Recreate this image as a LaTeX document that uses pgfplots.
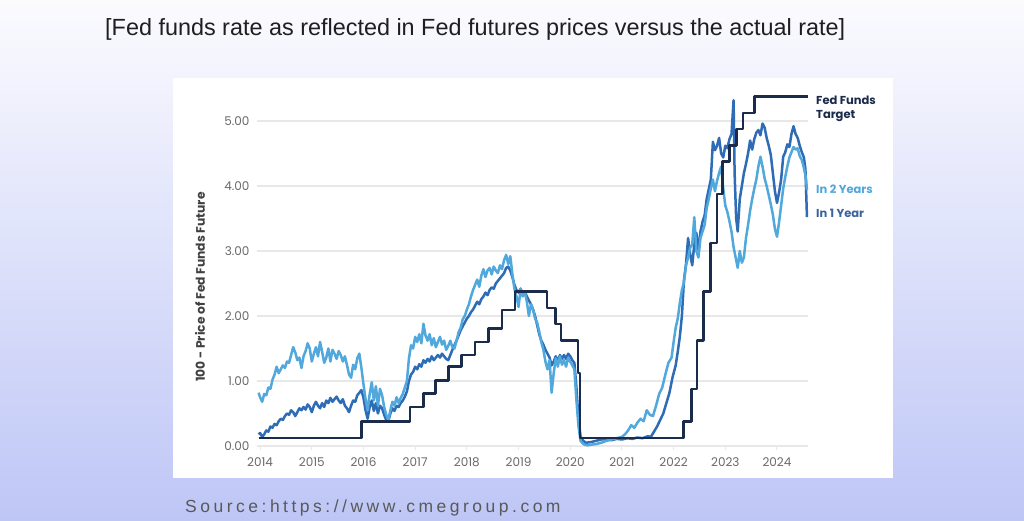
\documentclass[border=0pt]{standalone}
\usepackage{pgfplots}
\pgfplotsset{compat=1.18}
\usepackage{fontspec}
\newfontfamily\popfont{Poppins}
\newfontfamily\arialfont{Liberation Sans}
\newfontfamily\srcfont[LetterSpace=20]{Liberation Sans}

\definecolor{navy}{RGB}{27,43,75}
\definecolor{oneyr}{RGB}{46,108,182}
\definecolor{twoyr}{RGB}{80,168,221}
\definecolor{oneyrlbl}{RGB}{59,99,156}
\definecolor{gridgray}{RGB}{232,232,232}
\definecolor{tickgray}{RGB}{105,105,105}
\definecolor{bgtop}{RGB}{251,251,254}
\definecolor{bgmid}{RGB}{222,226,250}
\definecolor{bgbot}{RGB}{190,198,246}

\begin{document}
\begin{tikzpicture}[x=1pt,y=1pt]
\path[use as bounding box, top color=bgtop, middle color=bgmid, bottom color=bgbot]
  (0,0) rectangle (1024,521);
\fill[white] (173,43) rectangle (893,443);

\node[anchor=base west, inner sep=0, text=black!88, font=\arialfont\fontsize{23.4}{27}\selectfont]
  at (105,485) {[Fed funds rate as reflected in Fed futures prices versus the actual rate]};
\node[anchor=base west, inner sep=0, text=black!65, font=\srcfont\fontsize{17.5}{20}\selectfont]
  at (185,8.5) {Source:https://www.cmegroup.com};

\begin{axis}[
  at={(257pt,75pt)}, anchor=south west,
  scale only axis, width=551pt, height=357.5pt,
  xmin=2013.94, xmax=2024.6, ymin=0, ymax=5.5,
  clip=false,
  axis line style={draw=none},
  xtick={2014,2015,...,2024},
  ytick={0,1,2,3,4,5},
  ymajorgrids, grid style={draw=gridgray, line width=1.2pt},
  tick pos=left, tick align=outside,
  major tick length=4pt,
  xtick style={draw=gridgray, line width=1pt},
  ytick style={draw=none},
  /pgf/number format/assume math mode=true,
  ticklabel style={font=\popfont\fontsize{12}{14}\selectfont, text=tickgray},
  xticklabel style={/pgf/number format/1000 sep={}, yshift=-4pt},
  yticklabel style={/pgf/number format/.cd, fixed, fixed zerofill, precision=2},
  line join=round,
]
% In 1 Year
\addplot[oneyr, line width=2.5pt] coordinates {
(2013.97,0.18) (2014.00,0.20) (2014.04,0.14) (2014.08,0.18) (2014.12,0.24) (2014.16,0.22)
(2014.20,0.30) (2014.24,0.28) (2014.28,0.34) (2014.32,0.32) (2014.36,0.38) (2014.40,0.42)
(2014.44,0.40) (2014.48,0.46) (2014.52,0.50) (2014.56,0.48) (2014.60,0.55) (2014.64,0.52)
(2014.68,0.46) (2014.72,0.52) (2014.76,0.58) (2014.80,0.55) (2014.84,0.60) (2014.88,0.56)
(2014.92,0.64) (2014.96,0.60) (2015.00,0.52) (2015.04,0.62) (2015.08,0.68) (2015.12,0.62)
(2015.16,0.58) (2015.20,0.66) (2015.24,0.60) (2015.28,0.70) (2015.32,0.66) (2015.36,0.74)
(2015.40,0.68) (2015.44,0.72) (2015.48,0.76) (2015.52,0.70) (2015.56,0.66) (2015.60,0.72)
(2015.64,0.62) (2015.68,0.58) (2015.72,0.52) (2015.76,0.62) (2015.80,0.70) (2015.84,0.68)
(2015.88,0.78) (2015.92,0.82) (2015.96,0.86) (2016.00,0.74) (2016.04,0.55) (2016.08,0.42)
(2016.12,0.60) (2016.16,0.70) (2016.20,0.54) (2016.24,0.66) (2016.28,0.50) (2016.32,0.62)
(2016.36,0.58) (2016.40,0.48) (2016.44,0.40) (2016.48,0.38) (2016.52,0.50) (2016.56,0.58)
(2016.60,0.54) (2016.64,0.62) (2016.68,0.60) (2016.72,0.66) (2016.76,0.70) (2016.80,0.76)
(2016.84,0.84) (2016.88,1.00) (2016.92,1.10) (2016.96,1.14) (2017.00,1.22) (2017.04,1.18)
(2017.08,1.26) (2017.12,1.22) (2017.16,1.32) (2017.20,1.28) (2017.24,1.34) (2017.28,1.30)
(2017.32,1.38) (2017.36,1.32) (2017.40,1.36) (2017.44,1.40) (2017.48,1.36) (2017.52,1.42)
(2017.56,1.38) (2017.60,1.34) (2017.64,1.32) (2017.68,1.40) (2017.72,1.48) (2017.76,1.55)
(2017.80,1.62) (2017.84,1.70) (2017.88,1.78) (2017.92,1.84) (2017.96,1.90) (2018.00,1.96)
(2018.04,2.00) (2018.08,2.06) (2018.12,2.10) (2018.16,2.16) (2018.20,2.22) (2018.24,2.18)
(2018.28,2.26) (2018.32,2.30) (2018.36,2.36) (2018.40,2.32) (2018.44,2.40) (2018.48,2.44)
(2018.52,2.42) (2018.56,2.50) (2018.60,2.54) (2018.64,2.58) (2018.68,2.62) (2018.72,2.66)
(2018.76,2.74) (2018.80,2.76) (2018.84,2.70) (2018.88,2.60) (2018.92,2.48) (2018.96,2.40)
(2019.00,2.36) (2019.04,2.42) (2019.08,2.34) (2019.12,2.38) (2019.16,2.30) (2019.20,2.24)
(2019.24,2.18) (2019.28,2.10) (2019.32,2.00) (2019.36,1.86) (2019.40,1.72) (2019.44,1.62)
(2019.48,1.56) (2019.52,1.48) (2019.56,1.42) (2019.60,1.36) (2019.64,1.24) (2019.68,1.30)
(2019.72,1.38) (2019.76,1.30) (2019.80,1.40) (2019.84,1.34) (2019.88,1.40) (2019.92,1.34)
(2019.96,1.42) (2020.00,1.38) (2020.04,1.32) (2020.08,1.28) (2020.12,0.90) (2020.16,0.40)
(2020.20,0.15) (2020.25,0.08) (2020.30,0.05) (2020.40,0.06) (2020.50,0.08) (2020.60,0.10)
(2020.70,0.10) (2020.80,0.09) (2020.90,0.11) (2021.00,0.10) (2021.10,0.12) (2021.20,0.11)
(2021.30,0.13) (2021.40,0.12) (2021.50,0.15) (2021.56,0.14) (2021.62,0.22) (2021.68,0.30)
(2021.74,0.40) (2021.80,0.50) (2021.86,0.66) (2021.92,0.82) (2021.98,1.06) (2022.04,1.24)
(2022.08,1.45) (2022.12,1.68) (2022.16,2.00) (2022.20,2.55) (2022.24,2.80) (2022.28,3.20)
(2022.32,2.95) (2022.36,2.78) (2022.40,3.10) (2022.44,3.28) (2022.48,3.00) (2022.52,3.30)
(2022.56,3.45) (2022.60,3.55) (2022.64,3.80) (2022.68,3.95) (2022.72,4.10) (2022.76,4.68)
(2022.80,4.55) (2022.84,4.62) (2022.88,4.74) (2022.92,4.50) (2022.96,4.44) (2023.00,4.62)
(2023.04,4.58) (2023.08,4.72) (2023.12,4.80) (2023.16,5.32) (2023.18,4.20) (2023.21,3.50)
(2023.24,3.30) (2023.28,3.80) (2023.32,4.00) (2023.36,4.20) (2023.40,4.34) (2023.44,4.50)
(2023.48,4.70) (2023.52,4.56) (2023.56,4.72) (2023.60,4.82) (2023.64,4.86) (2023.68,4.78)
(2023.72,4.96) (2023.76,4.90) (2023.80,4.74) (2023.84,4.62) (2023.88,4.48) (2023.92,4.20)
(2023.96,3.92) (2024.00,3.74) (2024.04,3.90) (2024.08,4.10) (2024.12,4.45) (2024.16,4.52)
(2024.20,4.64) (2024.24,4.60) (2024.28,4.80) (2024.32,4.92) (2024.36,4.80) (2024.40,4.74)
(2024.44,4.62) (2024.48,4.52) (2024.52,4.44) (2024.55,4.26) (2024.58,3.52)
};
% In 2 Years
\addplot[twoyr, line width=2.5pt] coordinates {
(2013.97,0.82) (2014.00,0.75) (2014.04,0.68) (2014.08,0.80) (2014.12,0.78) (2014.16,0.90)
(2014.20,0.88) (2014.24,1.02) (2014.28,1.10) (2014.32,1.22) (2014.36,1.12) (2014.40,1.18)
(2014.44,1.24) (2014.48,1.20) (2014.52,1.30) (2014.56,1.28) (2014.60,1.40) (2014.64,1.52)
(2014.68,1.44) (2014.72,1.32) (2014.76,1.36) (2014.80,1.20) (2014.84,1.38) (2014.88,1.46)
(2014.92,1.58) (2014.96,1.50) (2015.00,1.30) (2015.04,1.42) (2015.08,1.52) (2015.12,1.38)
(2015.16,1.60) (2015.20,1.45) (2015.24,1.28) (2015.28,1.36) (2015.32,1.50) (2015.36,1.30)
(2015.40,1.48) (2015.44,1.42) (2015.48,1.34) (2015.52,1.46) (2015.56,1.40) (2015.60,1.30)
(2015.64,1.38) (2015.68,1.25) (2015.72,1.10) (2015.76,1.05) (2015.80,1.25) (2015.84,1.18)
(2015.88,1.35) (2015.92,1.42) (2015.96,1.20) (2016.00,0.95) (2016.04,0.72) (2016.08,0.55)
(2016.12,0.80) (2016.16,0.98) (2016.20,0.70) (2016.24,0.92) (2016.28,0.62) (2016.32,0.88)
(2016.36,0.78) (2016.40,0.60) (2016.44,0.48) (2016.48,0.40) (2016.52,0.55) (2016.56,0.68)
(2016.60,0.62) (2016.64,0.75) (2016.68,0.66) (2016.72,0.74) (2016.76,0.80) (2016.80,0.90)
(2016.84,1.00) (2016.88,1.35) (2016.92,1.55) (2016.96,1.50) (2017.00,1.68) (2017.04,1.60)
(2017.08,1.72) (2017.12,1.58) (2017.16,1.88) (2017.20,1.70) (2017.24,1.62) (2017.28,1.72)
(2017.32,1.55) (2017.36,1.66) (2017.40,1.52) (2017.44,1.60) (2017.48,1.68) (2017.52,1.56)
(2017.56,1.62) (2017.60,1.48) (2017.64,1.54) (2017.68,1.62) (2017.72,1.52) (2017.76,1.50)
(2017.80,1.62) (2017.84,1.75) (2017.88,1.82) (2017.92,1.95) (2017.96,2.00) (2018.00,2.10)
(2018.04,2.18) (2018.08,2.30) (2018.12,2.40) (2018.16,2.48) (2018.20,2.56) (2018.24,2.45)
(2018.28,2.62) (2018.32,2.72) (2018.36,2.60) (2018.40,2.70) (2018.44,2.74) (2018.48,2.64)
(2018.52,2.76) (2018.56,2.70) (2018.60,2.66) (2018.64,2.78) (2018.68,2.72) (2018.72,2.86)
(2018.76,2.94) (2018.80,2.80) (2018.84,2.92) (2018.88,2.65) (2018.92,2.42) (2018.96,2.30)
(2019.00,2.14) (2019.04,2.42) (2019.08,2.30) (2019.12,2.38) (2019.16,2.22) (2019.20,2.00)
(2019.24,2.18) (2019.28,2.10) (2019.32,1.96) (2019.36,1.90) (2019.40,1.76) (2019.44,1.60)
(2019.48,1.48) (2019.52,1.30) (2019.56,1.18) (2019.60,1.32) (2019.64,0.82) (2019.68,1.12)
(2019.72,1.35) (2019.76,1.22) (2019.80,1.38) (2019.84,1.25) (2019.88,1.32) (2019.92,1.22)
(2019.96,1.36) (2020.00,1.30) (2020.04,1.24) (2020.08,1.18) (2020.12,0.70) (2020.16,0.30)
(2020.20,0.08) (2020.24,0.04) (2020.28,0.02) (2020.34,0.01) (2020.40,0.02) (2020.50,0.03)
(2020.60,0.05) (2020.70,0.08) (2020.80,0.10) (2020.90,0.12) (2021.00,0.14) (2021.06,0.18)
(2021.12,0.24) (2021.18,0.32) (2021.24,0.28) (2021.30,0.36) (2021.36,0.42) (2021.42,0.38)
(2021.48,0.55) (2021.54,0.48) (2021.60,0.46) (2021.66,0.62) (2021.72,0.80) (2021.78,0.90)
(2021.84,1.10) (2021.90,1.28) (2021.96,1.36) (2022.00,1.60) (2022.04,1.82) (2022.08,1.96)
(2022.12,2.20) (2022.16,2.40) (2022.20,2.52) (2022.24,2.78) (2022.28,2.90) (2022.32,3.05)
(2022.36,3.10) (2022.40,3.52) (2022.44,3.00) (2022.48,2.90) (2022.52,3.20) (2022.56,3.30)
(2022.60,3.40) (2022.64,3.66) (2022.68,3.80) (2022.72,3.96) (2022.76,4.10) (2022.80,3.92)
(2022.84,4.08) (2022.88,4.20) (2022.92,4.30) (2022.96,3.96) (2023.00,3.70) (2023.04,3.60)
(2023.08,3.46) (2023.12,3.30) (2023.16,3.06) (2023.20,2.90) (2023.24,2.74) (2023.28,3.00)
(2023.32,2.82) (2023.36,2.90) (2023.40,3.20) (2023.44,3.40) (2023.48,3.62) (2023.52,3.80)
(2023.56,3.96) (2023.60,4.10) (2023.64,4.30) (2023.68,4.45) (2023.72,4.30) (2023.76,4.12)
(2023.80,4.00) (2023.84,3.86) (2023.88,3.72) (2023.92,3.56) (2023.96,3.34) (2024.00,3.22)
(2024.04,3.44) (2024.08,3.70) (2024.12,3.96) (2024.16,4.14) (2024.20,4.30) (2024.24,4.44)
(2024.28,4.52) (2024.32,4.60) (2024.36,4.56) (2024.40,4.58) (2024.44,4.46) (2024.48,4.40)
(2024.52,4.28) (2024.56,4.12) (2024.58,3.94)
};
% Fed Funds Target
\addplot[navy, line width=2.6pt, const plot] coordinates {
(2013.97,0.125) (2015.96,0.375) (2016.90,0.60) (2017.16,0.81) (2017.39,1.01)
(2017.64,1.22) (2017.90,1.40) (2018.16,1.60) (2018.42,1.81) (2018.68,2.09)
(2018.93,2.375) (2019.55,2.125) (2019.71,1.875) (2019.82,1.625) (2020.15,1.125)
(2020.19,0.125) (2022.19,0.375) (2022.35,0.875) (2022.45,1.625) (2022.58,2.375)
(2022.71,3.125) (2022.84,3.875) (2022.95,4.375) (2023.08,4.625) (2023.22,4.875)
(2023.34,5.125) (2023.57,5.375) (2024.60,5.375)
};
\end{axis}

\node[rotate=90, inner sep=0, text=black!75, font=\popfont\bfseries\fontsize{12.3}{14}\selectfont]
  at (200,234) {100 - Price of Fed Funds Future};
\node[anchor=west, inner sep=0, text=navy, align=left, font=\popfont\bfseries\fontsize{11.5}{14}\selectfont]
  at (816,412) {Fed Funds\\Target};
\node[anchor=west, inner sep=0, text=twoyr, font=\popfont\bfseries\fontsize{11.5}{14}\selectfont]
  at (816,332) {In 2 Years};
\node[anchor=west, inner sep=0, text=oneyrlbl, font=\popfont\bfseries\fontsize{11.5}{14}\selectfont]
  at (816,308) {In 1 Year};
\end{tikzpicture}
\end{document}
